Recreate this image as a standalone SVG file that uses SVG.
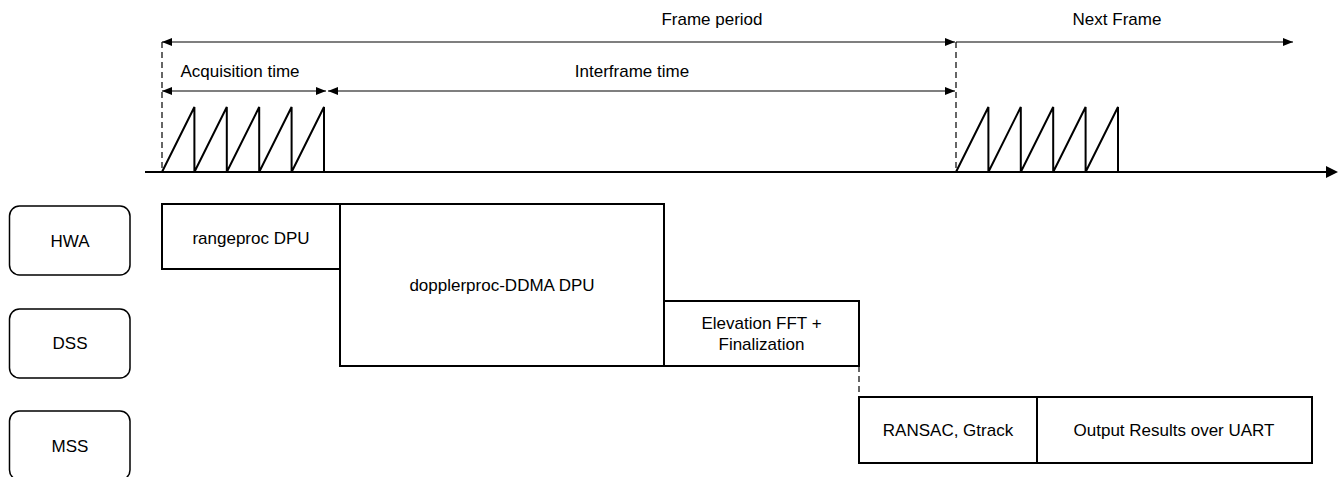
<svg xmlns="http://www.w3.org/2000/svg" width="1340" height="477" viewBox="0 0 1340 477">
<style>
text{font-family:"Liberation Sans",Arial,sans-serif;font-size:17px;fill:#000;text-anchor:middle}
.box{fill:#fff;stroke:#000;stroke-width:2}
.lane{fill:#fff;stroke:#000;stroke-width:1.5}
.dim{stroke:#000;stroke-width:1.2;fill:none}
.dash{stroke:#000;stroke-width:1.2;stroke-dasharray:6 4;fill:none}
.saw{stroke:#000;stroke-width:2;fill:none;stroke-linejoin:miter}
</style>
<defs>
<marker id="ah" viewBox="0 0 10 8" refX="10" refY="4" markerWidth="10" markerHeight="8" markerUnits="userSpaceOnUse" orient="auto-start-reverse">
<path d="M0,0 L10,4 L0,8 Z" fill="#000"/>
</marker>
</defs>
<rect width="1340" height="477" fill="#fff"/>
<g id="connectors">
<line class="dash" x1="162" y1="42" x2="162" y2="172"/>
<line class="dash" x1="956" y1="42" x2="956" y2="172"/>
<line class="dash" x1="859" y1="366" x2="859" y2="397"/>
<line class="dim" x1="162" y1="42" x2="955" y2="42" marker-start="url(#ah)" marker-end="url(#ah)"/>
<line class="dim" x1="956" y1="42" x2="1293" y2="42" marker-end="url(#ah)"/>
<line class="dim" x1="162" y1="91" x2="326" y2="91" marker-start="url(#ah)" marker-end="url(#ah)"/>
<line class="dim" x1="328" y1="91" x2="955" y2="91" marker-start="url(#ah)" marker-end="url(#ah)"/>
<line x1="145" y1="172" x2="1328" y2="172" stroke="#000" stroke-width="2"/>
<path d="M1326,166 L1338,172 L1326,178 Z" fill="#000"/>
<path class="saw" d="M162,172 L194.4,107 L194.4,172 L226.8,107 L226.8,172 L259.2,107 L259.2,172 L291.6,107 L291.6,172 L324,107 L324,172"/>
<path class="saw" d="M956,172 L988.4,107 L988.4,172 L1020.8,107 L1020.8,172 L1053.2,107 L1053.2,172 L1085.6,107 L1085.6,172 L1118,107 L1118,172"/>
</g>
<g id="labels">
<text x="712" y="25">Frame period</text>
<text x="1117" y="25">Next Frame</text>
<text x="240" y="77">Acquisition time</text>
<text x="632" y="77">Interframe time</text>
</g>
<g id="lane-hwa"><rect class="lane" x="9.5" y="206" width="120.5" height="69" rx="10"/><text x="70" y="246.5">HWA</text></g>
<g id="lane-dss"><rect class="lane" x="9.5" y="309" width="120.5" height="69" rx="10"/><text x="70" y="348.5">DSS</text></g>
<g id="lane-mss"><rect class="lane" x="9.5" y="411" width="120.5" height="69" rx="10"/><text x="70" y="451.5">MSS</text></g>
<g id="rangeproc"><rect class="box" x="162" y="204" width="178" height="65"/><text x="251" y="243.5">rangeproc DPU</text></g>
<g id="doppler"><rect class="box" x="340" y="204" width="324" height="162"/><text x="502" y="290.5">dopplerproc-DDMA DPU</text></g>
<g id="elevation"><rect class="box" x="664" y="301" width="195" height="65"/><text x="761.5" y="329">Elevation FFT +</text><text x="761.5" y="349.5">Finalization</text></g>
<g id="ransac"><rect class="box" x="859" y="397" width="178" height="66"/><text x="948" y="435.5">RANSAC, Gtrack</text></g>
<g id="output"><rect class="box" x="1037" y="397" width="275" height="66"/><text x="1174" y="435.5">Output Results over UART</text></g>
</svg>
